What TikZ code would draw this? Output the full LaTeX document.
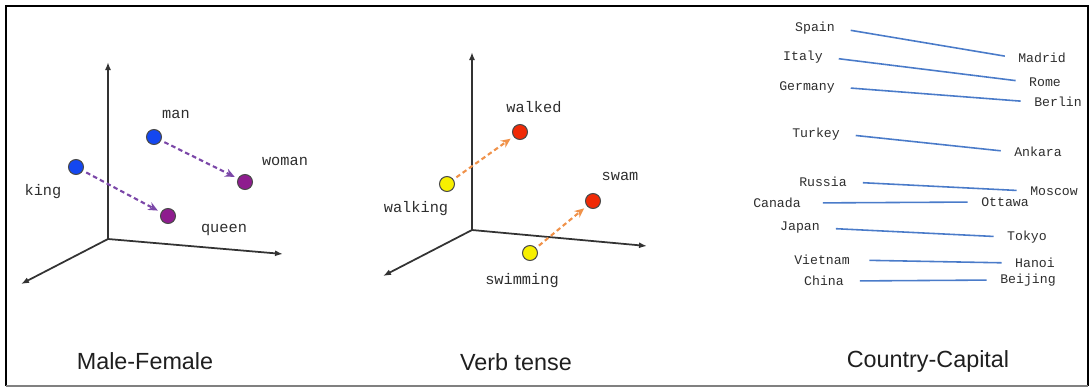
\documentclass[tikz,border=0pt]{standalone}
\usepackage{fontspec}
\setmainfont{Liberation Sans}
\newfontfamily\wordfont{Liberation Mono}
\usepackage{tikz}
\usetikzlibrary{arrows.meta}
\definecolor{axisx}{HTML}{333333}
\definecolor{dotline}{HTML}{4A4A4A}
\definecolor{bluex}{HTML}{1447F0}
\definecolor{purplex}{HTML}{8E1C8E}
\definecolor{yellowx}{HTML}{F7EF00}
\definecolor{redx}{HTML}{F02A06}
\definecolor{mfline}{HTML}{7B47A8}
\definecolor{vtline}{HTML}{F0924A}
\definecolor{linkblue}{HTML}{4A7BC9}
\definecolor{wordgray}{HTML}{2E2E2E}
\tikzset{
  ax/.style={-{Latex[length=1.6mm,width=1.2mm]},line width=1pt,axisx},
  dot/.style={circle,draw=dotline,line width=0.6pt,minimum size=0.3cm,inner sep=0pt},
  mf/.style={-{Stealth[length=1.9mm,width=1.7mm]},line width=1.2pt,mfline,dash pattern=on 2.6pt off 1.8pt,shorten <=2pt,shorten >=2pt},
  vt/.style={mf,vtline},
  wd/.style={font=\wordfont\fontsize{8.7}{10}\selectfont,text=wordgray,inner sep=1pt},
  cw/.style={font=\wordfont\fontsize{7.5}{9}\selectfont,text=wordgray,inner sep=1pt},
  link/.style={linkblue,line width=0.9pt,shorten <=0.28cm,shorten >=0.23cm},
  ttl/.style={font=\fontsize{13.3}{16}\selectfont,anchor=base,text=black!88}
}
\begin{document}
\begin{tikzpicture}[x=0.02cm,y=-0.02cm]
\useasboundingbox (0,0) rectangle (1090,387);
\draw[line width=1.2pt] (6,386) -- (6,6) -- (1088,6) -- (1088,386);
\draw[gray,line width=0.6pt] (6,386) -- (1088,386);

\coordinate (o1) at (108,239);
\coordinate (up1) at (108,62);
\coordinate (rt1) at (283,254);
\coordinate (lf1) at (21,284);
\draw[ax] (o1) -- (up1);
\draw[ax] (o1) -- (rt1);
\draw[ax] (o1) -- (lf1);
\node[dot,fill=bluex] (man) at (154,137) {};
\node[dot,fill=bluex] (king) at (76,167) {};
\node[dot,fill=purplex] (woman) at (245,182) {};
\node[dot,fill=purplex] (queen) at (168,216) {};
\node[wd] (lman) at (176,114) {man};
\node[wd] (lwoman) at (285,161) {woman};
\node[wd] (lking) at (43,192) {king};
\node[wd] (lqueen) at (224,230) {queen};
\draw[mf] (man) -- (woman);
\draw[mf] (king) -- (queen);
\node[ttl] (mftitle) at (145,369) {Male-Female};

\coordinate (o2) at (472,230);
\coordinate (up2) at (472,52);
\coordinate (rt2) at (647,246);
\coordinate (lf2) at (383,276);
\draw[ax] (o2) -- (up2);
\draw[ax] (o2) -- (rt2);
\draw[ax] (o2) -- (lf2);
\node[dot,fill=yellowx] (walking) at (447,184) {};
\node[dot,fill=redx] (walked) at (520,132) {};
\node[dot,fill=yellowx] (swimming) at (530,253) {};
\node[dot,fill=redx] (swam) at (593,201) {};
\node[wd] (lwalked) at (534,107) {walked};
\node[wd] (lswam) at (620,176) {swam};
\node[wd] (lwalking) at (416,209) {walking};
\node[wd] (lswimming) at (522,281) {swimming};
\draw[vt] (walking) -- (walked);
\draw[vt] (swimming) -- (swam);
\node[ttl] (vttitle) at (516,370) {Verb tense};

\node[cw] (spain) at (815,28) {Spain};
\node[cw] (madrid) at (1042,58) {Madrid};
\node[cw] (italy) at (803,57) {Italy};
\node[cw] (rome) at (1045,82) {Rome};
\node[cw] (germany) at (807,87) {Germany};
\node[cw] (berlin) at (1058,102) {Berlin};
\node[cw] (turkey) at (816,134) {Turkey};
\node[cw] (ankara) at (1038,152) {Ankara};
\node[cw] (russia) at (823,182) {Russia};
\node[cw] (moscow) at (1054,191) {Moscow};
\node[cw] (canada) at (777,203) {Canada};
\node[cw] (ottawa) at (1005,202) {Ottawa};
\node[cw] (japan) at (800,228) {Japan};
\node[cw] (tokyo) at (1027,237) {Tokyo};
\node[cw] (vietnam) at (822,260) {Vietnam};
\node[cw] (hanoi) at (1035,263) {Hanoi};
\node[cw] (china) at (824,281) {China};
\node[cw] (beijing) at (1028,280) {Beijing};
\draw[link] (spain.east) -- (madrid.west);
\draw[link] (italy.east) -- (rome.west);
\draw[link] (germany.east) -- (berlin.west);
\draw[link] (turkey.east) -- (ankara.west);
\draw[link] (russia.east) -- (moscow.west);
\draw[link,shorten <=0.4cm] (canada.east) -- (ottawa.west);
\draw[link] (japan.east) -- (tokyo.west);
\draw[link,shorten <=0.35cm] (vietnam.east) -- (hanoi.west);
\draw[link] (china.east) -- (beijing.west);
\node[ttl] (cctitle) at (928,367) {Country-Capital};
\end{tikzpicture}
\end{document}
